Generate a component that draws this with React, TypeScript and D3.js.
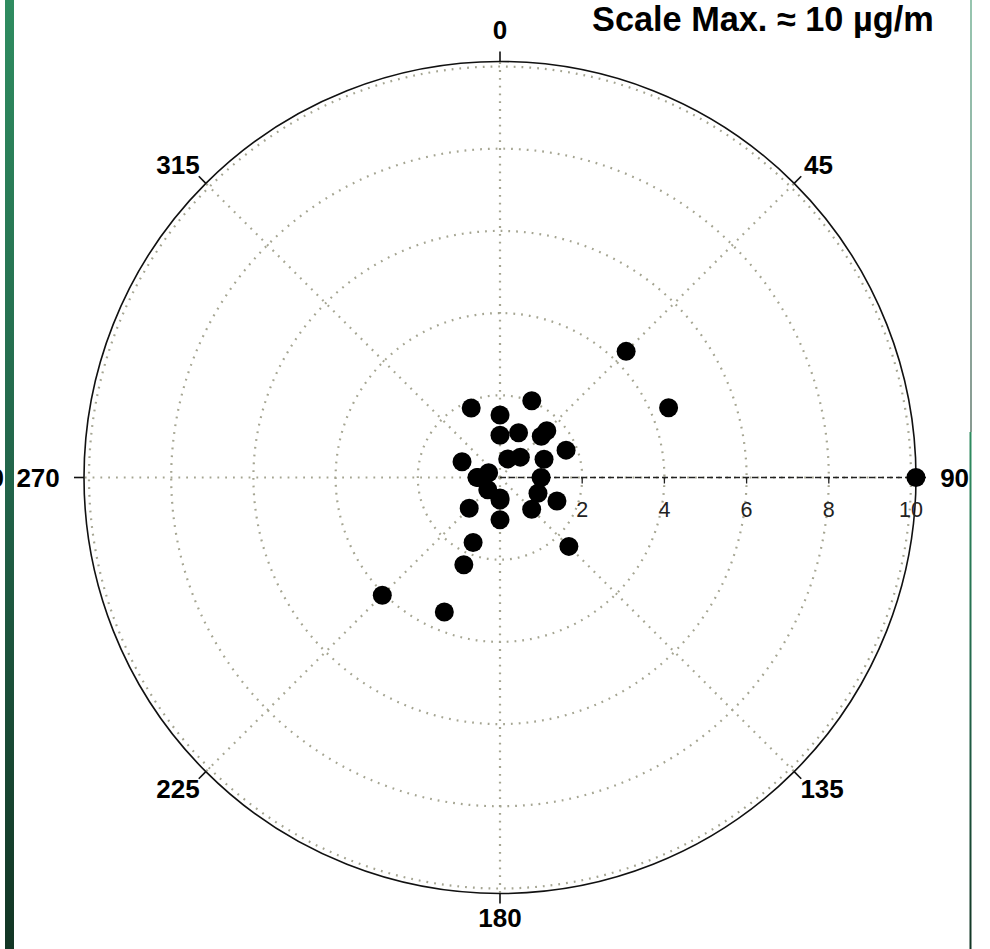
import React from "react";
import * as d3 from "d3";

const directions = [337.5, 0, 22.5, 0, 22.5, 45, 45, 67.5, 22.5, 45, 67.5, 292.5, 292.5, 270, 270, 90, 112.5, 112.5, 135, 225, 180, 180, 225, 180, 202.5, 202.5, 135, 225, 202.5, 45, 67.5, 90];
const concentrations = [1.83, 1.52, 2.02, 1.03, 1.18, 1.42, 1.61, 1.74, 0.49, 0.7, 1.16, 1.0, 0.3, 0.54, 0.56, 1.0, 1.0, 1.5, 1.09, 0.42, 0.5, 0.55, 1.06, 1.03, 1.71, 2.3, 2.37, 4.05, 3.54, 4.34, 4.44, 10.12];
const radialTicks = [2, 4, 6, 8, 10];
const angleTicks = [0, 45, 90, 135, 180, 225, 270, 315];
const angleLabels = ["0", "45", "90", "135", "180", "225", "270", "315"];
const titleText = "Scale Max. \u2248 10 \u00b5g/m";

const W = 990;
const H = 949;
const cx = 500;
const cy = 477.5;
const font = "'Liberation Sans', Arial, Helvetica, sans-serif";

export default function App() {
  const r = d3.scaleLinear().domain([0, 10]).range([0, 411]);
  const R = r(10) + 5;
  const rad = (deg: number) => (deg * Math.PI) / 180;
  const px = (deg: number, rr: number) => cx + rr * Math.sin(rad(deg));
  const py = (deg: number, rr: number) => cy - rr * Math.cos(rad(deg));
  const grid = "#a5a592";

  return (
    <svg width={W} height={H} style={{ position: "absolute", left: 0, top: 0, background: "#fff" }} fontFamily={font}>
      <defs>
        <linearGradient id="gbar" x1="0" y1="0" x2="0" y2="1">
          <stop offset="0" stopColor="#2f8c60" />
          <stop offset="0.5" stopColor="#22654a" />
          <stop offset="1" stopColor="#123524" />
        </linearGradient>
      </defs>
      <rect x={0} y={0} width={W} height={H} fill="#ffffff" />
      <text x={4} y={cy + 9} fontSize={26} fontWeight="bold" textAnchor="end">90</text>
      <rect x={5} y={0} width={9} height={H} fill="url(#gbar)" />
      <rect x={970.5} y={0} width={1} height={432} fill="url(#gbar)" />
      <rect x={969.5} y={432} width={2} height={H - 432} fill="url(#gbar)" />

      {/* dotted rings */}
      {radialTicks.map((t) => (
        <circle key={"c" + t} cx={cx} cy={cy} r={r(t)} fill="none" stroke={grid} strokeWidth={2.2} strokeDasharray="1.8 6" />
      ))}
      {/* spokes */}
      {angleTicks.map((a) => (
        <line key={"s" + a} x1={cx} y1={cy} x2={px(a, R)} y2={py(a, R)} stroke={grid} strokeWidth={2.2} strokeDasharray="1.8 6" />
      ))}
      {/* outer circle */}
      <circle cx={cx} cy={cy} r={R} fill="none" stroke="#111" strokeWidth={1.6} />
      {/* angle ticks and labels */}
      {angleTicks.map((a, i) => {
        const lab = angleLabels[i];
        const hw = lab.length * 7.3;
        const s = Math.sin(rad(a));
        const c = Math.cos(rad(a));
        const lx = cx + (440 + hw * Math.abs(s)) * s;
        const ly = cy - 440 * c - 8 * Math.pow(Math.max(c, 0), 4);
        return (
          <g key={"a" + a}>
            <line x1={px(a, R)} y1={py(a, R)} x2={px(a, R + 10)} y2={py(a, R + 10)} stroke="#111" strokeWidth={1.6} />
            <text x={lx} y={ly + 9.3} fontSize={26} fontWeight="bold" textAnchor="middle" fill="#000">{lab}</text>
          </g>
        );
      })}
      {/* radial axis along 90 */}
      <line x1={cx} y1={cy} x2={cx + R} y2={cy} stroke="#222" strokeWidth={1.3} strokeDasharray="6 3" />
      {radialTicks.map((t) => (
        <g key={"rt" + t}>
          <line x1={cx + r(t)} y1={cy} x2={cx + r(t)} y2={cy + 6} stroke="#222" strokeWidth={1.3} />
          <text x={cx + r(t)} y={cy + 39} fontSize={21.5} textAnchor="middle" fill="#222">{t}</text>
        </g>
      ))}
      {/* points */}
      {directions.map((d, i) => (
        <circle key={"p" + i} cx={px(d, r(concentrations[i]))} cy={py(d, r(concentrations[i]))} r={9.5} fill="#000" />
      ))}
      <text x={592} y={31} fontSize={34.3} fontWeight="bold" fill="#000">{titleText}</text>
    </svg>
  );
}
